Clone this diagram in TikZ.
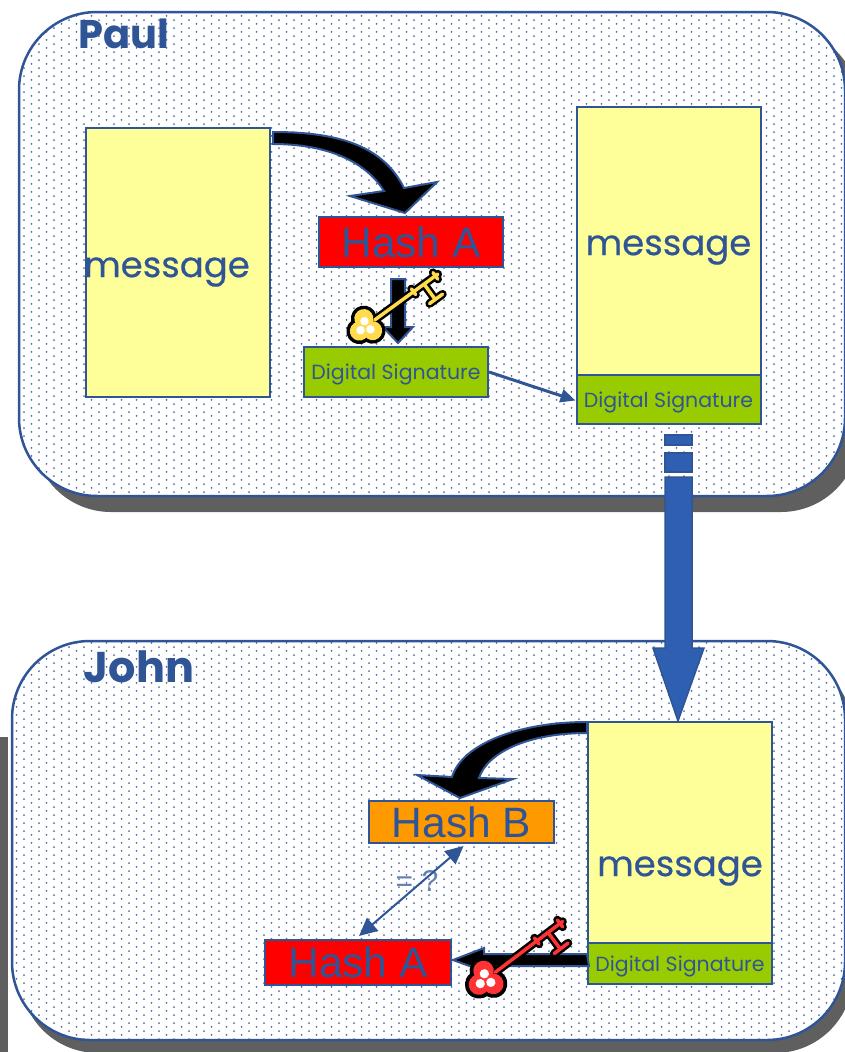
\documentclass[tikz,border=0pt]{standalone}
\usepackage{fontspec}
\setmainfont{Liberation Sans}
\newfontfamily\handfont{Poppins}
\newfontfamily\thickfont[FakeBold=0.5]{Poppins}
\usetikzlibrary{patterns,arrows.meta}
\definecolor{inkblue}{HTML}{2F5597}
\definecolor{arrowblue}{HTML}{2F5FB0}
\definecolor{shadowgray}{HTML}{5F5F5F}
\definecolor{paleyellow}{HTML}{FFFF99}
\definecolor{leafgreen}{HTML}{99CC00}
\definecolor{hashorange}{HTML}{FF9900}
\definecolor{keygold}{HTML}{FFDB4D}
\definecolor{keyred}{HTML}{FF3333}
\pgfdeclarepatternformonly{paneldots}{\pgfpointorigin}{\pgfqpoint{15.4pt}{7.7pt}}{\pgfqpoint{15.4pt}{7.7pt}}{%
	\pgfpathcircle{\pgfqpoint{9.3pt}{6.1pt}}{1.05pt}%
	\pgfpathcircle{\pgfqpoint{1.6pt}{2.25pt}}{1.05pt}%
	\pgfusepath{fill}}
\tikzset{
	panel/.style={draw=inkblue,line width=2.5,rounded corners=78,pattern=paneldots,pattern color=inkblue!85},
	panelshadow/.style={fill=shadowgray,rounded corners=78},
	box/.style={draw=inkblue,line width=2,inner sep=0,text=inkblue,minimum width=184},
	msgbox/.style={box,fill=paleyellow},
	msgtext/.style={text=inkblue,font=\thickfont\fontsize{35.5}{36}\selectfont},
	hashbox/.style={box,font=\fontsize{42.5}{43}\selectfont},
	sigbox/.style={box,fill=leafgreen,text depth=0pt,font=\handfont\fontsize{20.5}{21}\selectfont},
	namelabel/.style={text=inkblue,font=\handfont\bfseries\fontsize{#1}{40}\selectfont},
	blackarrow/.style={fill=black,draw=inkblue,line width=2,line join=miter},
	bluearrow/.style={fill=arrowblue,draw=inkblue,line width=1.5},
	thinarrow/.style={draw=inkblue,line width=3,-{Triangle[length=15,width=13]}},
	pics/keyicon/.style={code={
		\foreach \c/\w/\r in {black/8.5/13/,#1/3.5/9.5/}{
			\fill[\c] (-7,0) circle (\r) (4,-7.5) circle (\r) (4,7.5) circle (\r);
			\draw[\c,line width=\w,line cap=round] (12,0)--(90,0) (87,-4)--(87,4) (60,-3.5)--(60,3.5) (73,0)--(73,19) (66,19)--(82,19);
		}
		\fill[white] (-5.5,0) circle (4.3) (3,-5) circle (4.3) (3,5) circle (4.3);
	}}
}
\begin{document}
\begin{tikzpicture}[x=1pt,y=-1pt]
	\useasboundingbox (0,0) rectangle (845,1052);
	\fill[shadowgray] (0,737) rectangle (8,1052);
	\fill[panelshadow] (33,28) rectangle (859,512);
	\fill[panelshadow] (20,654) rectangle (853,1053);
	\fill[white,rounded corners=78] (19,12) rectangle (845,496);
	\fill[white,rounded corners=78] (12,641) rectangle (845,1040);
	\path[panel] (19,12) rectangle (845,496);
	\path[panel] (12,641) rectangle (845,1040);
	\node[namelabel=40] (paul) at (124,34){Paul};
	\node[namelabel=43] (john) at (139,667){John};
	% sender
	\node[msgbox,minimum height=269] (msgA) at (178,262.5){};
	\node[msgtext] (msgAtext) at (167,272){message};
	\node[hashbox,fill=red,minimum height=50] (hashA) at (411,242){Hash A};
	\node[sigbox,minimum height=50] (sigA) at (396,372){Digital Signature};
	\node[msgbox,minimum height=268] (msgB) at (668.5,241){};
	\node[msgtext] (msgBtext) at (668.5,250){message};
	\node[sigbox,minimum height=49] (sigB) at (668.5,399.5){Digital Signature};
	% receiver
	\node[msgbox,minimum height=221] (msgC) at (680,832.5){};
	\node[msgtext] (msgCtext) at (680,871){message};
	\node[sigbox,minimum height=41] (sigC) at (680,963.5){Digital Signature};
	\node[hashbox,fill=hashorange,minimum height=42,minimum width=185] (hashB) at (461.5,822){Hash B};
	\node[hashbox,fill=red,minimum height=45,minimum width=186] (hashC) at (358,962.5){Hash A};
	\node[text=inkblue!75,font=\fontsize{30}{30}\selectfont] (same) at (417,881){= ?};
	\draw[blackarrow] ([shift={(2,5)}]msgA.north east) .. controls +(70,0) and +(-20,-40) .. ([shift={(-7,-28)}]hashA.north) -- ++(33,-6) -- ([shift={(-6,-3)}]hashA.north) -- ++(-55,-17) -- ++(34,-5) .. controls +(-20,-32) and +(50,0) .. ([shift={(2,17)}]msgA.north east) -- cycle;
	\draw[blackarrow] ([shift={(2,-3)}]sigA.north) -- ++(-15,-16) -- ++(8,0) -- ++(0,-48) -- ++(14,0) -- ++(0,48) -- ++(8,0) -- cycle;
	\draw[thinarrow] (sigA.east) -- ([shift={(0,1)}]sigB.west);
	\foreach \ya/\yb in {10/20,28/47}{
		\filldraw[bluearrow] ([shift={(-3.5,\ya)}]sigB.south) rectangle ([shift={(23.5,\yb)}]sigB.south);
	}
	\coordinate (tipC) at ([xshift=-2]msgC.north);
	\draw[bluearrow] (tipC) -- ++(-25,-73) -- ++(12,0) -- ++(0,-171) -- ++(27,0) -- ++(0,171) -- ++(12,0) -- cycle;
	\draw[blackarrow] ([shift={(0,1)}]msgC.north west) .. controls +(-68,0) and +(10,-33) .. ([shift={(-9.5,-23)}]hashB.north) -- ++(-35,-2) -- ([shift={(-1.5,-2)}]hashB.north) -- ++(53,-19) -- ++(-34,-1) .. controls +(8,-25) and +(-60,0) .. ([shift={(0,12)}]msgC.north west) -- cycle;
	\draw[blackarrow] ([shift={(0,-9.5)}]sigC.west) -- ++(-103,0) -- ++(0,-6) -- ([shift={(1,-2.5)}]hashC.east) -- ++(33,12) -- ++(0,-6) -- ++(103,0) -- cycle;
	\draw[thinarrow,line width=2,{Triangle[length=18,width=17]}-{Triangle[length=18,width=17]}] ([shift={(1,-3)}]hashC.north) -- ([shift={(2,2)}]hashB.south);
	\pic[rotate=36] at (365,327) {keyicon=keygold};
	\pic[rotate=37,scale=1.08] at (485,980) {keyicon=keyred};
\end{tikzpicture}
\end{document}
